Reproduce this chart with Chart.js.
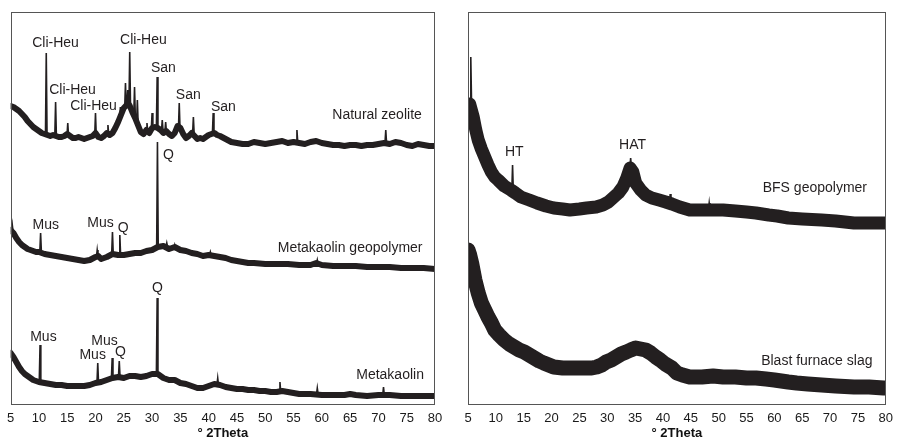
<!DOCTYPE html>
<html>
<head>
<meta charset="utf-8">
<script src="https://cdn.jsdelivr.net/npm/chart.js@4.4.1/dist/chart.umd.min.js"></script>
<style>
  body { margin: 0; background: #fff; }
  #wrap { position: relative; width: 900px; height: 444px; }
  canvas { position: absolute; top: 0; }
</style>
</head>
<body>
<div id="wrap">
  <canvas id="left" width="450" height="444" style="left:0"></canvas>
  <canvas id="right" width="450" height="444" style="left:450px"></canvas>
</div>
<script>
'use strict';

// x ticks, degrees 2theta
var tickValues = [5, 10, 15, 20, 25, 30, 35, 40, 45, 50, 55, 60, 65, 70, 75, 80];

// --- left panel: [2theta, intensity] along the middle of each noisy trace ---
var zeoliteBand = [[5,298],[5.5,297],[6,295],[6.5,293],[7,290],[7.5,287],[8,283],[8.5,280],[9,277],[9.5,275],
  [10,273],[10.5,271],[11,270],[11.5,269],[12,268],[12.5,269],[13,268],[13.5,267],[14,267],[14.5,268],
  [15,270],[15.5,268],[16,266],[16.5,266],[17,267],[17.5,266],[18,265],[18.5,266],[19,267],[19.5,268],
  [20,271],[20.5,267],[21,266],[21.5,268],[22,271],[22.5,269],[23,271],[23.5,276],[24,282],[24.5,289],
  [25,296],[25.5,299],[26,299],[26.5,292],[27,286],[27.5,279],[28,272],[28.5,270],[29,274],[29.5,271],
  [30,276],[30.5,277],[31,276],[31.5,274],[32,271],[32.5,273],[33,270],[33.5,268],[34,271],[34.5,278],
  [35,276],[35.5,270],[36,266],[36.5,268],[37,271],[37.5,268],[38,265],[38.5,266],[39,265],[39.5,267],
  [40,269],[40.5,270],[41,271],[41.5,269],[42,268],[43,265],[44,262],[45,261],[46,260],[47,260],
  [48,262],[49,261],[50,260],[51,261],[52,262],[53,263],[54,261],[55,262],[56,261],[57,260],
  [58,262],[59,263],[60,261],[61,260],[62,259],[63,259],[64,258],[65,259],[66,259],[67,258],
  [68,259],[69,259],[70,260],[71,261],[72,260],[73,262],[74,261],[75,259],[76,258],[77,260],
  [78,259],[79,258],[80,258]];
// [2theta, base, top]
var zeolitePeaks = [[11.3,269,351],[12.95,268,302],[15.1,268,281],[20.0,268,291],[22.2,270,279],
  [24.4,284,297],[25.3,296,321],[25.7,298,314],[26.05,298,352],[26.9,288,317],[27.4,280,304],
  [29.1,272,281],[30.0,274,291],[30.9,276,327],[31.8,273,284],[32.4,272,282],[34.8,275,301],
  [37.3,270,287],[40.8,270,291],[55.6,262,274],[71.3,261,274]];

var geopolymerBand = [[5,174],[5.5,171],[6,166],[6.5,162],[7,159],[7.5,157],[8,155],[8.5,154],[9,153],[9.5,152],
  [10,152],[10.5,151],[11,150],[12,149],[13,148],[14,147],[15,146],[16,145],[17,144],[18,143],
  [19,144],[20,147],[20.5,148],[21,145],[22,147],[23,150],[24,149],[25,149],[26,150],[27,151],
  [28,151],[29,153],[30,154],[31,157],[32,158],[33,155],[34,157],[35,154],[36,153],[37,151],
  [38,150],[39,148],[40,149],[41,148],[42,147],[43,146],[44,144],[45,143],[46,142],[47,141],
  [48,141],[50,140],[52,140],[54,140],[56,139],[58,139],[59,141],[60,139],[62,138],[64,138],
  [66,138],[68,137],[70,137],[72,137],[74,136],[76,136],[78,136],[80,135]];
var geopolymerPeaks = [[5.3,172,179],[10.3,152,171],[20.3,147,154],[23.0,150,172],[24.3,149,169],
  [30.95,156,262],[32.6,157,161],[34.0,156,159],[40.3,149,152],[59.2,140,144]];

var metakaolinBand = [[5,51],[5.5,47],[6,42],[6.5,37],[7,33],[7.5,30],[8,28],[8.5,26],[9,24],[9.5,23],
  [10,22],[11,21],[12,20],[13,19],[14,19],[15,18],[16,18],[17,18],[18,18],[19,19],
  [20,21],[21,22],[22,24],[23,26],[24,27],[25,26],[26,28],[27,28],[28,27],[29,28],
  [30,30],[31,30],[32,26],[33,24],[34,24],[35,21],[36,20],[37,18],[38,16],[39,16],
  [40,18],[41,20],[42,19],[43,17],[44,16],[45,15],[46,15],[47,14],[48,14],[49,13],
  [50,13],[51,12],[52,12],[53,13],[54,12],[55,11],[56,10],[58,10],[60,9],[62,9],
  [64,9],[65,10],[66,9],[68,8],[70,9],[72,9],[74,8],[76,8],[78,8],[80,8]];
var metakaolinPeaks = [[10.2,22,59],[20.4,21,41],[22.95,25,46],[24.2,27,43],[30.9,30,106],
  [41.6,19,26],[52.6,12,22],[59.2,10,16],[70.9,9,17]];

// --- right panel ---
var bfsBand = [[5,294],[5.3,300],[5.94,287],[6.4,274],[6.83,264],[7.4,255],[8,247],[8.6,239],[9.2,232],[9.8,227],
  [10.4,224],[11.5,218],[12.7,214],[13.5,211],[14.5,207],[16,204],[17.4,201],[19,198],[20.4,196],[22,195],
  [23.3,194],[25,195],[26.3,196],[28,197],[29.2,199],[30.2,202],[31,206],[32,211],[32.8,217],[33.5,226],
  [34.1,236],[34.6,232],[35.1,221],[36,214],[36.9,209],[38,206],[39.3,204],[40.5,202],[41.6,200],[43,197],
  [44.8,194],[47,194],[49,194],[50.8,194],[53,193],[55,192],[56.7,191],[59,189],[60.5,188],[62.5,186],
  [65,185],[68.5,184],[71,183],[74.3,181],[77,181],[80,181]];
var bfsPeaks = [[5.5,300,347],[13.0,212,239],[34.2,236,246],[41.3,200,210],[48.3,194,201]];

var slagBand = [[5,154],[5.3,149],[5.65,141],[6.24,124],[6.83,111],[7.4,101],[8,94],[8.6,87],[9.2,81],[9.8,74],
  [10.6,69],[11.5,64],[12.4,60],[13.3,57],[14.2,54],[15.1,52],[16,49],[16.9,46],[17.8,43],[18.6,41],
  [19.5,39],[20.4,37],[22,36],[23.3,36],[25,36],[26.3,36],[27.2,36],[28.1,37],[29,39],[29.8,42],
  [30.7,44],[31.6,47],[32.5,50],[33.4,52],[34.2,54],[35.1,56],[36,55],[36.9,54],[37.8,51],[38.7,47],
  [39.5,44],[40.4,40],[41.6,36],[42.5,31],[43.5,29],[44.8,27],[47,27],[49,28],[50.8,27],[53,27],
  [55,26],[56.7,26],[58.5,25],[60,24],[62.5,22],[64,21],[66,20],[68.5,19],[71,18],[74.3,17],
  [77,17],[79.6,16],[80,16]];

// text on the plots: [text, 2theta, intensity]
var leftLabels = [['Cli-Heu',12.94,361],['Cli-Heu',15.94,314],['Cli-Heu',19.65,298],['Cli-Heu',28.47,364],
  ['San',32.0,336],['San',36.4,309],['San',42.6,297],['Natural zeolite',69.76,289],
  ['Q',32.9,249],['Mus',11.2,179],['Mus',20.9,181],['Q',24.9,176],['Metakaolin geopolymer',65.0,156],
  ['Mus',10.8,67],['Mus',21.6,63],['Mus',19.5,49],['Q',24.4,52],['Q',30.94,116],['Metakaolin',72.06,29]];
var rightLabels = [['HT',13.31,252],['HAT',34.54,259],['BFS geopolymer',67.27,216],['Blast furnace slag',67.62,43]];

var ink = '#231f20';

function toPoints(band) {
  return band.map(function (p) { return {x: p[0], y: p[1]}; });
}

function peakPoints(peaks) {
  var pts = [];
  for (var i = 0; i < peaks.length; i++) {
    var p = peaks[i];
    pts.push({x: p[0] - 0.14, y: p[1]});
    pts.push({x: p[0], y: p[2]});
    pts.push({x: p[0] + 0.14, y: p[1]});
    pts.push({x: p[0] + 0.15, y: null});
  }
  return pts;
}

function bandSet(band, width) {
  return {data: toPoints(band), borderColor: ink, borderWidth: width, pointRadius: 0,
    tension: 0, borderJoinStyle: 'round', borderCapStyle: 'round', fill: false};
}

function peakSet(peaks) {
  return {data: peakPoints(peaks), borderColor: ink, borderWidth: 1.6, pointRadius: 0,
    tension: 0, spanGaps: false, fill: false};
}

var framePlugin = {
  id: 'frame',
  afterDraw: function (chart) {
    var a = chart.chartArea;
    var ctx = chart.ctx;
    ctx.save();
    ctx.strokeStyle = '#555';
    ctx.lineWidth = 1;
    ctx.strokeRect(Math.round(a.left) + 0.5, Math.round(a.top) + 0.5,
      Math.round(a.right - a.left) - 1, Math.round(a.bottom - a.top));
    ctx.restore();
  }
};

var labelPlugin = {
  id: 'peakLabels',
  afterDatasetsDraw: function (chart, args, opts) {
    var ctx = chart.ctx;
    var xs = chart.scales.x, ys = chart.scales.y;
    ctx.save();
    ctx.fillStyle = ink;
    ctx.font = '14px "Liberation Sans", Arial, sans-serif';
    ctx.textAlign = 'center';
    ctx.textBaseline = 'middle';
    opts.items.forEach(function (l) {
      ctx.fillText(l[0], xs.getPixelForValue(l[1]), ys.getPixelForValue(l[2]));
    });
    ctx.restore();
  }
};

function makeChart(id, datasets, labels, pad) {
  return new Chart(document.getElementById(id), {
    type: 'line',
    data: {datasets: datasets},
    plugins: [framePlugin, labelPlugin],
    options: {
      responsive: false,
      animation: false,
      devicePixelRatio: 1,
      layout: {padding: {left: pad[0], right: pad[1], top: 12, bottom: 0}},
      plugins: {
        legend: {display: false},
        tooltip: {enabled: false},
        peakLabels: {items: labels}
      },
      scales: {
        x: {
          type: 'linear', min: 5, max: 80,
          afterBuildTicks: function (s) { s.ticks = tickValues.map(function (v) { return {value: v}; }); },
          afterFit: function (s) { s.height = 40; },
          grid: {display: false, drawTicks: false},
          border: {display: false},
          ticks: {color: '#1a1a1a', padding: 7, maxRotation: 0, autoSkip: false,
            font: {family: '"Liberation Sans", Arial, sans-serif', size: 13}},
          title: {display: true, text: '° 2Theta', color: '#111', padding: {top: 0, bottom: 3},
            font: {family: '"Liberation Sans", Arial, sans-serif', size: 13, weight: 'bold'}}
        },
        y: {type: 'linear', min: 0, max: 392, display: false}
      }
    }
  });
}

makeChart('left', [
  bandSet(zeoliteBand, 6), peakSet(zeolitePeaks),
  bandSet(geopolymerBand, 6), peakSet(geopolymerPeaks),
  bandSet(metakaolinBand, 6), peakSet(metakaolinPeaks)
], leftLabels, [10, 15]);

makeChart('right', [
  bandSet(bfsBand, 13), peakSet(bfsPeaks),
  bandSet(slagBand, 15)
], rightLabels, [18, 8]);
</script>
</body>
</html>
